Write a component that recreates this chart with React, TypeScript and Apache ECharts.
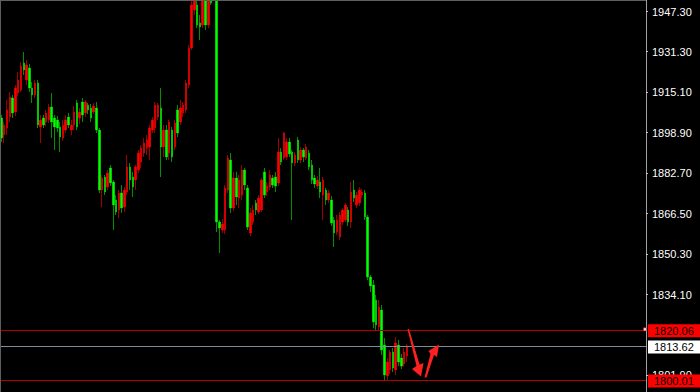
import { useEffect, useRef } from "react";
import * as echarts from "echarts";

// Each bar: [open, close, low, high]
const bars: [number, number, number, number][] = [
  [1904.78, 1896.78, 1895.18, 1905.98],
  [1897.98, 1901.98, 1894.78, 1903.18],
  [1900.78, 1907.98, 1897.98, 1911.98],
  [1905.18, 1913.18, 1903.18, 1915.18],
  [1912.78, 1906.78, 1904.78, 1913.98],
  [1907.18, 1916.78, 1905.58, 1917.98],
  [1914.78, 1919.98, 1913.58, 1923.18],
  [1915.98, 1925.58, 1915.18, 1927.18],
  [1926.78, 1923.98, 1921.98, 1931.18],
  [1919.98, 1925.98, 1917.98, 1927.98],
  [1924.78, 1916.78, 1915.18, 1926.38],
  [1916.78, 1913.98, 1910.78, 1919.18],
  [1913.98, 1918.78, 1912.78, 1919.98],
  [1918.78, 1901.98, 1900.78, 1919.98],
  [1901.18, 1903.98, 1894.78, 1905.98],
  [1904.78, 1901.98, 1900.78, 1905.98],
  [1903.18, 1906.78, 1901.58, 1907.98],
  [1903.98, 1909.18, 1902.78, 1910.38],
  [1909.18, 1903.18, 1896.78, 1914.78],
  [1904.78, 1901.18, 1891.98, 1905.98],
  [1903.98, 1900.78, 1899.18, 1905.58],
  [1901.18, 1897.18, 1891.18, 1903.18],
  [1896.78, 1901.98, 1895.58, 1903.98],
  [1899.98, 1903.98, 1898.78, 1905.98],
  [1905.18, 1901.98, 1900.78, 1906.78],
  [1899.98, 1901.98, 1897.98, 1903.98],
  [1901.98, 1907.18, 1899.98, 1909.58],
  [1910.78, 1901.18, 1899.98, 1911.98],
  [1904.78, 1907.18, 1902.38, 1908.78],
  [1911.18, 1905.98, 1903.18, 1912.78],
  [1906.78, 1911.18, 1905.18, 1911.98],
  [1909.98, 1907.98, 1906.38, 1910.78],
  [1908.78, 1904.78, 1903.18, 1910.38],
  [1907.18, 1909.58, 1906.38, 1910.78],
  [1908.78, 1899.98, 1898.78, 1911.18],
  [1899.98, 1875.98, 1874.78, 1900.78],
  [1875.98, 1880.78, 1869.18, 1881.98],
  [1881.18, 1875.18, 1873.98, 1881.98],
  [1877.18, 1882.78, 1875.98, 1883.98],
  [1884.78, 1878.78, 1877.58, 1885.98],
  [1879.18, 1869.98, 1859.98, 1879.98],
  [1871.98, 1867.18, 1865.98, 1873.98],
  [1867.98, 1874.78, 1864.78, 1875.98],
  [1874.78, 1868.78, 1866.78, 1877.98],
  [1869.18, 1875.98, 1867.18, 1877.18],
  [1875.18, 1885.18, 1873.98, 1889.98],
  [1885.18, 1879.98, 1875.98, 1886.78],
  [1881.18, 1877.18, 1873.18, 1883.18],
  [1879.98, 1885.18, 1875.98, 1885.98],
  [1883.98, 1890.78, 1882.78, 1891.98],
  [1887.18, 1892.78, 1884.78, 1893.98],
  [1890.78, 1894.78, 1889.18, 1896.78],
  [1892.78, 1895.98, 1889.98, 1897.98],
  [1893.18, 1900.78, 1887.98, 1901.98],
  [1899.98, 1903.98, 1898.78, 1905.18],
  [1900.78, 1909.98, 1898.78, 1911.18],
  [1905.18, 1909.98, 1903.98, 1910.78],
  [1908.78, 1893.18, 1881.18, 1916.78],
  [1893.18, 1899.98, 1889.18, 1901.98],
  [1899.98, 1889.18, 1887.98, 1901.98],
  [1890.78, 1903.18, 1887.98, 1903.98],
  [1899.98, 1889.18, 1887.18, 1901.18],
  [1893.18, 1902.78, 1891.98, 1903.98],
  [1907.98, 1898.78, 1897.18, 1909.98],
  [1903.18, 1908.78, 1901.98, 1911.98],
  [1906.78, 1909.98, 1905.18, 1911.18],
  [1907.98, 1918.78, 1906.78, 1919.98],
  [1917.98, 1932.78, 1916.78, 1933.98],
  [1932.78, 1949.98, 1931.98, 1951.98],
  [1947.98, 1955.98, 1945.98, 1959.98],
  [1949.98, 1941.98, 1940.78, 1951.98],
  [1942.78, 1941.18, 1935.98, 1945.98],
  [1941.98, 1953.98, 1940.78, 1957.98],
  [1953.98, 1941.98, 1939.98, 1955.98],
  [1941.98, 1953.98, 1940.78, 1957.98],
  [1955.18, 1950.78, 1949.98, 1957.98],
  [1955.98, 1961.98, 1953.98, 1963.98],
  [1961.98, 1863.18, 1859.18, 1963.98],
  [1863.18, 1860.78, 1850.78, 1863.98],
  [1859.98, 1862.38, 1858.78, 1864.38],
  [1859.98, 1876.78, 1858.38, 1877.98],
  [1875.98, 1888.78, 1874.78, 1889.98],
  [1887.98, 1868.78, 1866.78, 1890.78],
  [1868.78, 1880.78, 1867.58, 1883.18],
  [1880.78, 1873.18, 1869.98, 1883.18],
  [1872.78, 1879.98, 1868.78, 1881.98],
  [1873.98, 1883.98, 1871.98, 1885.98],
  [1883.98, 1877.98, 1875.98, 1884.78],
  [1876.78, 1861.18, 1859.98, 1877.98],
  [1858.78, 1866.78, 1857.58, 1868.78],
  [1863.18, 1867.98, 1861.98, 1869.98],
  [1870.78, 1867.98, 1865.98, 1871.98],
  [1867.18, 1872.78, 1866.38, 1873.98],
  [1867.98, 1879.98, 1867.18, 1880.78],
  [1883.18, 1873.98, 1872.78, 1884.78],
  [1875.18, 1877.58, 1873.58, 1879.18],
  [1877.18, 1881.98, 1875.98, 1883.98],
  [1880.78, 1877.98, 1876.78, 1881.98],
  [1881.18, 1877.58, 1875.18, 1883.18],
  [1878.78, 1891.18, 1877.58, 1896.78],
  [1891.18, 1887.18, 1885.98, 1892.78],
  [1888.78, 1898.78, 1887.98, 1899.18],
  [1889.18, 1895.18, 1887.98, 1896.78],
  [1895.18, 1890.38, 1889.18, 1896.78],
  [1891.18, 1886.78, 1863.98, 1891.98],
  [1886.78, 1889.98, 1885.58, 1891.18],
  [1895.98, 1887.98, 1886.78, 1897.18],
  [1887.98, 1891.98, 1886.78, 1893.18],
  [1891.98, 1889.18, 1887.18, 1892.78],
  [1888.78, 1893.18, 1887.98, 1894.38],
  [1890.78, 1885.18, 1883.98, 1891.98],
  [1885.98, 1879.98, 1878.38, 1887.98],
  [1880.78, 1878.38, 1876.78, 1881.98],
  [1877.58, 1879.98, 1876.38, 1881.58],
  [1879.18, 1875.18, 1872.78, 1884.78],
  [1873.98, 1879.98, 1863.98, 1881.18],
  [1875.98, 1871.98, 1869.98, 1876.78],
  [1871.98, 1874.78, 1870.78, 1875.98],
  [1871.98, 1862.78, 1861.58, 1873.58],
  [1863.98, 1858.78, 1853.18, 1865.18],
  [1859.18, 1863.98, 1857.98, 1865.98],
  [1857.18, 1865.98, 1855.98, 1867.18],
  [1863.18, 1867.98, 1861.98, 1868.78],
  [1863.98, 1869.98, 1863.18, 1870.78],
  [1867.98, 1863.18, 1861.58, 1869.18],
  [1863.18, 1875.18, 1860.78, 1879.18],
  [1875.98, 1872.78, 1871.18, 1879.98],
  [1869.98, 1873.98, 1868.78, 1875.18],
  [1870.78, 1875.98, 1869.58, 1877.18],
  [1873.98, 1875.18, 1872.78, 1876.38],
  [1874.78, 1865.18, 1863.98, 1875.98],
  [1865.18, 1841.18, 1839.98, 1865.98],
  [1841.18, 1837.58, 1835.18, 1841.98],
  [1837.98, 1823.18, 1820.78, 1839.98],
  [1831.98, 1821.98, 1819.98, 1833.98],
  [1821.18, 1829.18, 1819.98, 1831.98],
  [1827.98, 1811.98, 1809.98, 1829.98],
  [1813.98, 1801.98, 1799.98, 1816.78],
  [1801.58, 1807.18, 1799.58, 1808.78],
  [1803.98, 1811.18, 1802.38, 1811.98],
  [1811.18, 1804.78, 1803.18, 1812.78],
  [1803.98, 1814.78, 1801.98, 1817.18],
  [1813.98, 1807.18, 1805.58, 1815.98],
  [1808.78, 1805.58, 1804.38, 1810.38],
  [1806.38, 1811.18, 1805.18, 1812.78],
  [1809.58, 1813.62, 1807.18, 1814.38],
];

// Chart slots on the time axis (bars fill the left part, the rest is shift space)
const slotCount = 231;

const tickValues = [1947.3, 1931.3, 1915.1, 1898.9, 1882.7, 1866.5, 1850.3, 1834.1, 1801.9];
const axisMin = 1795.18;
const axisMax = 1951.98;

const resistance = 1820.06;
const bidPrice = 1813.62;
const support = 1800.01;

const UP = "#ff0000";
const DOWN = "#00ff00";
const UP_WICK = "#a00000";
const DOWN_WICK = "#009000";
const LEVEL_RED = "#b40000";
const BID_GRAY = "#7f8c99";

export default function App() {
  const ref = useRef<HTMLDivElement>(null);

  useEffect(() => {
    document.body.style.margin = "0";
    document.body.style.background = "#000";
    const chart = echarts.init(ref.current!, null, { renderer: "svg" });
    const categories = Array.from({ length: slotCount }, (_, i) => String(i));
    const bodies = bars.map(([o, c]) => [o, c, Math.min(o, c), Math.max(o, c)]);

    chart.setOption({
      animation: false,
      backgroundColor: "#000",
      grid: { left: 0, right: 54, top: 0, bottom: 0 },
      xAxis: {
        type: "category",
        data: categories,
        show: false,
        boundaryGap: true,
      },
      yAxis: {
        type: "value",
        position: "right",
        min: axisMin,
        max: axisMax,
        axisLine: { show: true, lineStyle: { color: "#a0a0a0", width: 1 } },
        axisTick: {
          show: true,
          length: 2,
          customValues: tickValues,
          lineStyle: { color: "#c8c8c8" },
        },
        axisLabel: {
          customValues: tickValues,
          color: "#ffffff",
          fontSize: 11,
          fontFamily: "Liberation Sans, Arial, sans-serif",
          margin: 6,
          formatter: (v: number) => v.toFixed(2),
        },
        splitLine: { show: false },
      },
      series: [
        {
          name: "wicks",
          type: "candlestick",
          data: bars,
          barWidth: 2,
          clip: true,
          itemStyle: {
            color: "transparent",
            color0: "transparent",
            borderColor: UP_WICK,
            borderColor0: DOWN_WICK,
            borderWidth: 1,
          },
          markLine: {
            silent: true,
            symbol: "none",
            label: { show: false },
            animation: false,
            data: [
              { yAxis: resistance, lineStyle: { color: LEVEL_RED, width: 1, type: "solid" } },
              { yAxis: bidPrice, lineStyle: { color: BID_GRAY, width: 1, type: "solid" } },
              { yAxis: support, lineStyle: { color: LEVEL_RED, width: 1, type: "solid" } },
            ],
          },
        },
        {
          name: "bodies",
          type: "candlestick",
          data: bodies,
          barWidth: 2,
          clip: true,
          itemStyle: {
            color: UP,
            color0: DOWN,
            borderColor: UP,
            borderColor0: DOWN,
            borderWidth: 0,
          },
        },
      ],
    });

    const yOf = (v: number) => chart.convertToPixel({ yAxisIndex: 0 }, v) as number;
    const tag = (value: number, bg: string) => {
      const y = yOf(value);
      return [
        {
          type: "rect",
          z: 100,
          shape: { x: 648, y: y - 5.5, width: 54, height: 13 },
          style: { fill: bg },
        },
        {
          type: "text",
          z: 101,
          x: 654,
          y: y + 1,
          style: {
            text: value.toFixed(2),
            fill: "#000",
            font: "11px Liberation Sans, Arial, sans-serif",
            textVerticalAlign: "middle",
          },
        },
      ];
    };
    const yRes = yOf(resistance);

    chart.setOption({
      graphic: [
        // frame edges
        { type: "line", z: 90, shape: { x1: 0, y1: 0.5, x2: 646, y2: 0.5 }, style: { stroke: "#5e5e5e", lineWidth: 1 } },
        { type: "line", z: 90, shape: { x1: 0.5, y1: 0, x2: 0.5, y2: 392 }, style: { stroke: "#5e5e5e", lineWidth: 1 } },
        ...tag(resistance, "#ff0000"),
        ...tag(bidPrice, "#ffffff"),
        ...tag(support, "#ff0000"),
        {
          type: "rect",
          z: 102,
          shape: { x: 643.5, y: yRes - 2, width: 3, height: 3 },
          style: { fill: "#ffe0e0", stroke: "#ff0000", lineWidth: 0.5 },
        },
        // hand-drawn arrows: down leg, then rebound
        {
          type: "polygon",
          z: 95,
          shape: {
            points: [
              [407.5, 329],
              [409, 329],
              [419.5, 364.5],
              [423.5, 363],
              [421, 376.5],
              [412, 369],
              [416.5, 366],
            ],
          },
          style: { fill: "#ff2020" },
        },
        {
          type: "polygon",
          z: 95,
          shape: {
            points: [
              [424.5, 377.5],
              [430.5, 354],
              [428.5, 351],
              [439, 344.5],
              [437, 357],
              [434, 355],
              [426.5, 377.5],
            ],
          },
          style: { fill: "#ff2020" },
        },
      ],
    });

    return () => chart.dispose();
  }, []);

  return (
    <div
      ref={ref}
      style={{ position: "fixed", left: 0, top: 0, width: 700, height: 392, background: "#000" }}
    />
  );
}
